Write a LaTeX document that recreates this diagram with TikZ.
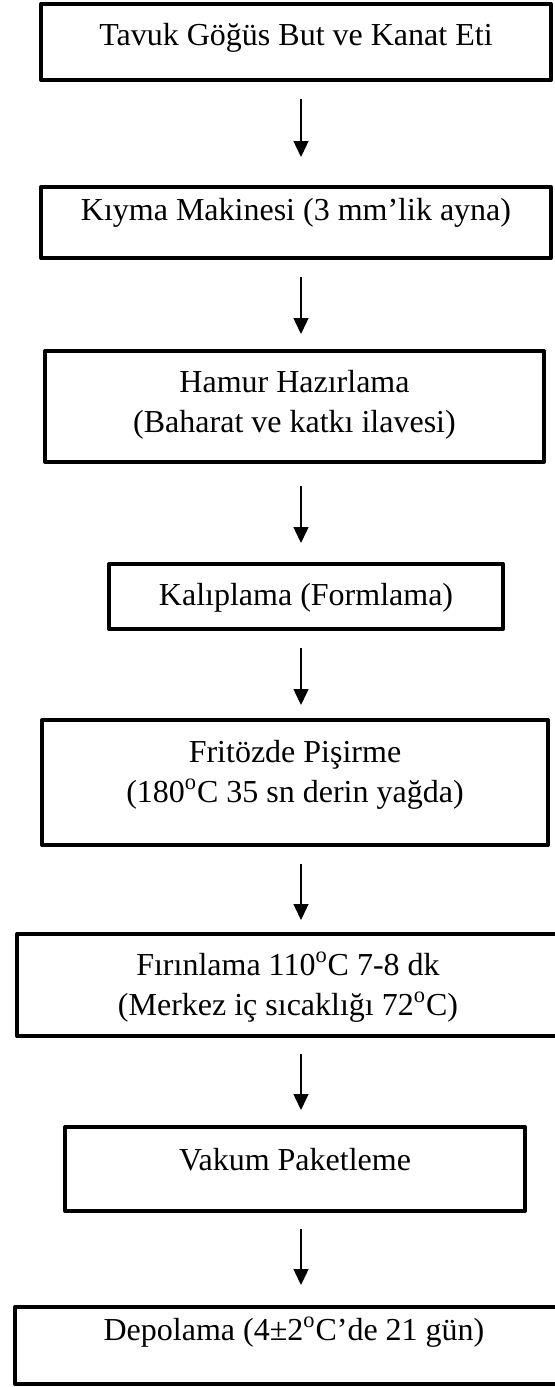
\documentclass[tikz,border=0pt]{standalone}
\usepackage{fontspec}
\setmainfont{Liberation Serif}
\usetikzlibrary{arrows.meta}

\newcommand{\dgC}{\textsuperscript{o}C}

\tikzset{
	stepbox/.style={draw, line width=2pt, line join=round, inner xsep=4pt, inner ysep=0pt,
		align=center, font=\fontsize{16}{20}\selectfont},
	flow/.style={-{Triangle[width=7.5pt,length=8pt]}, line width=0.7pt, shorten <=8.5pt},
}

\begin{document}
\begin{tikzpicture}[x=0.5pt, y=-0.5pt]
	\useasboundingbox (0,0) rectangle (555,1387);
	\coordinate (ax) at (301,0);
	\node[stepbox, minimum width=255pt, text height=20.5pt, text depth=17.5pt] (tavuk) at (296,42) {Tavuk Göğüs But ve Kanat Eti};
	\node[stepbox, minimum width=255pt, text height=16.5pt, text depth=19pt] (kiyma) at (296,222.5) {Kıyma Makinesi (3 mm’lik ayna)};
	\node[stepbox, minimum width=249.5pt, text height=40.5pt, text depth=15pt] (hamur) at (294.5,406.5) {Hamur Hazırlama\\(Baharat ve katkı ilavesi)};
	\node[stepbox, minimum width=197pt, text height=20.5pt, text depth=12pt] (kalip) at (306,596.5) {Kalıplama (Formlama)};
	\node[stepbox, minimum width=253pt, text height=41pt, text depth=21.5pt] (fritoz) at (295,782.5) {Fritözde Pişirme\\(180\dgC{} 35 sn derin yağda)};
	\node[stepbox, minimum width=271pt, text height=40.5pt, text depth=10.5pt] (firin) at (288,985) {Fırınlama 110\dgC{} 7-8 dk\\(Merkez iç sıcaklığı 72\dgC)};
	\node[stepbox, minimum width=230pt, text height=21.5pt, text depth=20.5pt] (vakum) at (295,1169) {Vakum Paketleme};
	\node[stepbox, minimum width=279pt, text height=16.5pt, text depth=22pt] (depo) at (294,1345.5) {Depolama (4±2\dgC’de 21 gün)};
	% arrows between the steps
	\draw[flow, shorten >=14pt] (tavuk.south -| ax) -- (kiyma.north -| ax);
	\draw[flow, shorten >=7.5pt] (kiyma.south -| ax) -- (hamur.north -| ax);
	\draw[flow, shorten <=11pt, shorten >=9.5pt] (hamur.south -| ax) -- (kalip.north -| ax);
	\draw[flow, shorten >=6.5pt] (kalip.south -| ax) -- (fritoz.north -| ax);
	\draw[flow, shorten >=6pt] (fritoz.south -| ax) -- (firin.north -| ax);
	\draw[flow, shorten <=8pt, shorten >=7.5pt] (firin.south -| ax) -- (vakum.north -| ax);
	\draw[flow, shorten <=8pt, shorten >=10pt] (vakum.south -| ax) -- (depo.north -| ax);
\end{tikzpicture}
\end{document}
